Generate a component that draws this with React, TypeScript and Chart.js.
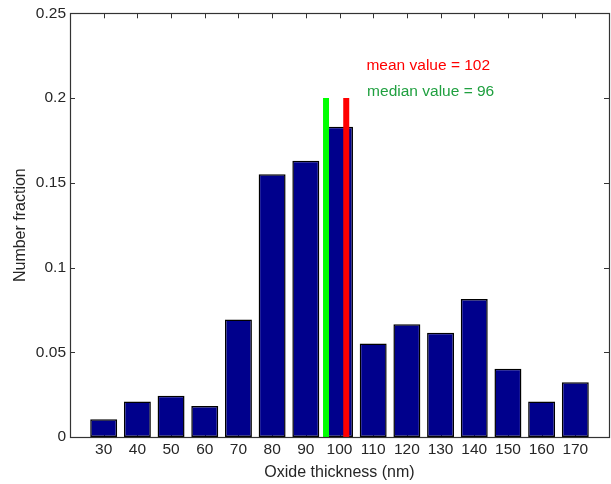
import React, { useEffect, useRef } from "react";
import { Chart, registerables } from "chart.js";

Chart.register(...registerables);

const categories = [30, 40, 50, 60, 70, 80, 90, 100, 110, 120, 130, 140, 150, 160, 170];
const fractions = [0.0105, 0.021, 0.0244, 0.0183, 0.0694, 0.155, 0.163, 0.183, 0.0552, 0.0666, 0.0615, 0.0814, 0.0403, 0.021, 0.0323];
const yTicks = [0, 0.05, 0.1, 0.15, 0.2, 0.25];
const meanValue = 102;
const medianValue = 96;
const markerHeight = 0.2;
const meanLabel = "mean value = 102";
const medianLabel = "median value = 96";

const FONT = "'Liberation Sans', Arial, Helvetica, sans-serif";

const boxPlugin = {
  id: "matlabBox",
  beforeDatasetsDraw(chart: any) {
    const { ctx, chartArea: a, scales } = chart;
    ctx.save();
    ctx.strokeStyle = "#333";
    ctx.lineWidth = 1;
    ctx.beginPath();
    const tl = 5;
    categories.forEach((v) => {
      const x = Math.round(scales.x.getPixelForValue(v)) + 0.5;
      ctx.moveTo(x, a.top);
      ctx.lineTo(x, a.top + tl);
      ctx.moveTo(x, a.bottom);
      ctx.lineTo(x, a.bottom - tl);
    });
    yTicks.forEach((v) => {
      const y = Math.round(scales.y.getPixelForValue(v)) + 0.5;
      ctx.moveTo(a.left, y);
      ctx.lineTo(a.left + tl, y);
      ctx.moveTo(a.right, y);
      ctx.lineTo(a.right - tl, y);
    });
    ctx.stroke();
    ctx.restore();
  },
  afterDatasetsDraw(chart: any) {
    const { ctx, chartArea: a, scales } = chart;
    ctx.save();
    ctx.strokeStyle = "#333";
    ctx.lineWidth = 1.2;
    ctx.strokeRect(Math.round(a.left) + 0.5, Math.round(a.top) + 0.5, Math.round(a.right - a.left), Math.round(a.bottom - a.top));
    ctx.font = `15.5px ${FONT}`;
    ctx.textBaseline = "middle";
    ctx.textAlign = "left";
    ctx.fillStyle = "#ff0000";
    ctx.fillText(meanLabel, scales.x.getPixelForValue(108), scales.y.getPixelForValue(0.2188));
    ctx.fillStyle = "#20a040";
    ctx.fillText(medianLabel, scales.x.getPixelForValue(108.2), scales.y.getPixelForValue(0.204));
    ctx.restore();
  },
};

export default function App() {
  const ref = useRef<HTMLCanvasElement | null>(null);
  useEffect(() => {
    if (!ref.current) return;
    const chart = new Chart(ref.current, {
      type: "bar",
      data: {
        datasets: [
          {
            type: "line",
            data: [{ x: medianValue, y: 0 }, { x: medianValue, y: markerHeight }],
            borderColor: "#00ff00",
            borderWidth: 6,
            pointRadius: 0,
            order: 1,
          } as any,
          {
            type: "line",
            data: [{ x: meanValue, y: 0 }, { x: meanValue, y: markerHeight }],
            borderColor: "#ff0000",
            borderWidth: 6,
            pointRadius: 0,
            order: 1,
          } as any,
          {
            type: "bar",
            data: categories.map((c, i) => ({ x: c, y: fractions[i] })),
            backgroundColor: "#00008c",
            borderColor: "#000",
            borderWidth: 1.5,
            borderSkipped: false,
            categoryPercentage: 1,
            barPercentage: 0.8,
            order: 2,
          } as any,
        ],
      },
      options: {
        animation: false,
        responsive: true,
        maintainAspectRatio: false,
        layout: { padding: { top: 13, right: 2, left: 0, bottom: 0 } },
        plugins: { legend: { display: false }, tooltip: { enabled: false } },
        scales: {
          x: {
            type: "linear",
            min: 20,
            max: 180,
            offset: false,
            grid: { display: false, drawTicks: false },
            border: { display: false },
            afterBuildTicks: (s: any) => {
              s.ticks = categories.map((v) => ({ value: v }));
            },
            afterFit: (s: any) => {
              s.height = 47;
            },
            ticks: {
              autoSkip: false,
              maxRotation: 0,
              padding: 3,
              color: "#262626",
              font: { family: FONT, size: 15.5 },
              callback: (v: any) => String(v),
            },
            title: {
              display: true,
              text: "Oxide thickness (nm)",
              color: "#262626",
              font: { family: FONT, size: 16 },
              padding: { top: 0, bottom: 2 },
            },
          },
          y: {
            min: 0,
            max: 0.25,
            grid: { display: false, drawTicks: false },
            border: { display: false },
            afterBuildTicks: (s: any) => {
              s.ticks = yTicks.map((v) => ({ value: v }));
            },
            afterFit: (s: any) => {
              s.width = 70;
            },
            ticks: {
              padding: 4,
              color: "#262626",
              font: { family: FONT, size: 15.5 },
              callback: (v: any) => String(Math.round(Number(v) * 100) / 100),
            },
            title: {
              display: true,
              text: "Number fraction",
              color: "#262626",
              font: { family: FONT, size: 16 },
              padding: { top: 11, bottom: 0 },
            },
          },
        },
      } as any,
      plugins: [boxPlugin],
    });
    return () => chart.destroy();
  }, []);
  return (
    <div style={{ position: "absolute", left: 0, top: 0, width: 611, height: 484, background: "#fff" }}>
      <canvas ref={ref} />
    </div>
  );
}
